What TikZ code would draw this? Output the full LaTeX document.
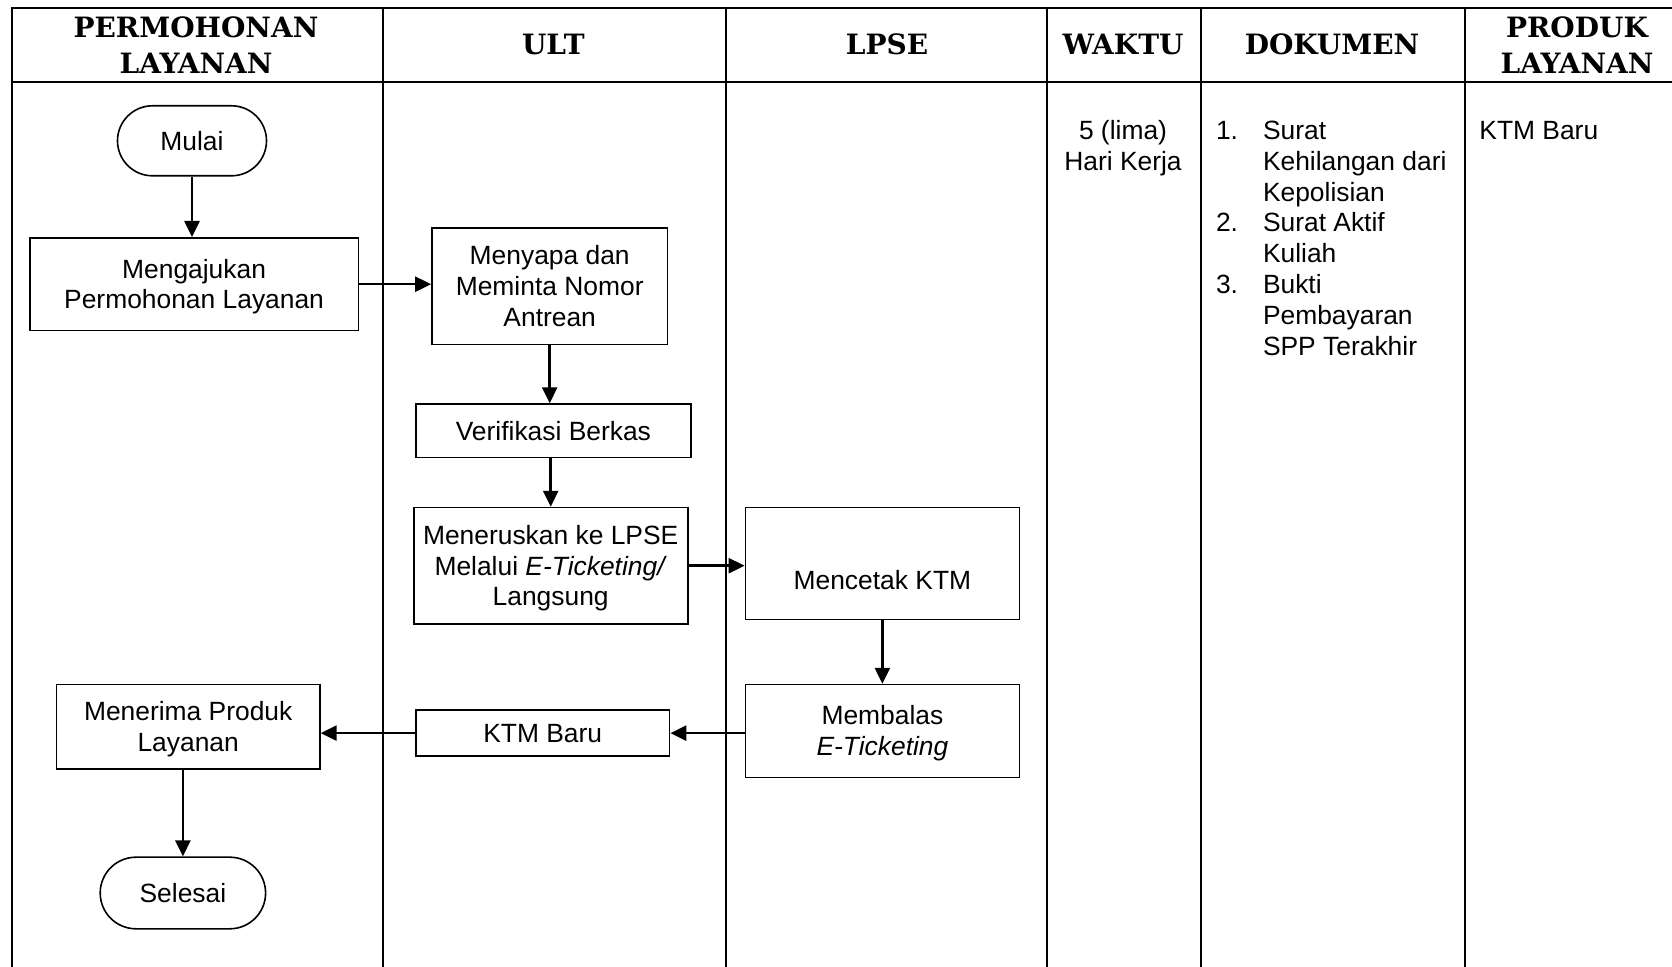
\documentclass[tikz,border=0pt]{standalone}
\usepackage{fontspec}
\setmainfont{Liberation Sans}
\newfontfamily\hdrfont{DejaVu Serif}
\usetikzlibrary{arrows.meta}
\newcommand\bt[1]{\raisebox{-1.6pt}[\height][\depth]{\begin{tabular}{@{}c@{}}#1\end{tabular}}}
\begin{document}
\begin{tikzpicture}[x=0.5pt,y=-0.5pt,
  tline/.style={line width=1.3pt},
  box/.style={draw,line width=0.8pt,rectangle,inner sep=0pt,font=\fontsize{13.2}{15.4}\selectfont},
  term/.style={box,rounded corners=#1},
  hdr/.style={align=center,inner sep=0pt,font=\hdrfont\bfseries\fontsize{14}{18.1}\selectfont},
  body/.style={inner sep=0pt,font=\fontsize{13.2}{15.4}\selectfont},
  arr/.style={line width=1.3pt,-{Triangle[length=8pt,width=7.5pt]}}
]
\useasboundingbox (0,0) rectangle (1672,967);
% table
\draw[tline] (1672,8) -- (12,8) -- (12,967);
\draw[tline] (12,82) -- (1672,82);
\foreach \cx in {383,726,1047,1201,1465} \draw[tline] (\cx,8) -- (\cx,967);
% headers
\node[hdr] (h1) at (196,44.8) {PERMOHONAN\\LAYANAN};
\node[hdr] (h2) at (553.4,44.8) {ULT};
\node[hdr] (h3) at (887,44.8) {LPSE};
\node[hdr] (h4) at (1123,44.8) {WAKTU};
\node[hdr] (h5) at (1332,44.8) {DOKUMEN};
\node[hdr] (h6) at (1577,44.8) {PRODUK\\LAYANAN};
% flow nodes
\node[term=17.5pt,minimum width=74.5pt,minimum height=35pt] (mulai) at (192,140.8) {\bt{Mulai}};
\node[box,minimum width=164.2pt,minimum height=46.4pt] (ajukan) at (194.1,284.2) {\bt{Mengajukan\\Permohonan Layanan}};
\node[box,minimum width=117.8pt,minimum height=58.1pt] (sapa) at (549.7,286.3) {\bt{Menyapa dan\\Meminta Nomor\\Antrean}};
\node[box,minimum width=137.6pt,minimum height=26.7pt] (verif) at (553.4,430.8) {\bt{Verifikasi Berkas}};
\node[box,minimum width=137pt,minimum height=58.1pt] (terus) at (550.7,565.7) {\bt{Meneruskan ke LPSE\\Melalui \textit{E-Ticketing/}\\Langsung}};
\node[box,minimum width=137pt,minimum height=56pt,label={[body,yshift=-8.3pt]center:Mencetak KTM}] (cetak) at (882.4,563.5) {};
\node[box,minimum width=137pt,minimum height=46.4pt] (balas) at (882.4,731) {\bt{Membalas\\\textit{E-Ticketing}}};
\node[box,minimum width=126.9pt,minimum height=23pt] (ktm) at (542.7,733.1) {\bt{KTM Baru}};
\node[box,minimum width=131.7pt,minimum height=42.1pt] (terima) at (188.2,726.7) {\bt{Menerima Produk\\Layanan}};
\node[term=17.9pt,minimum width=82.7pt,minimum height=35.8pt] (selesai) at (182.9,893) {\bt{Selesai}};
% connectors
\draw[arr] (mulai.south) -- (mulai.south |- ajukan.north);
\draw[arr] (ajukan.east) -- (ajukan.east -| sapa.west);
\draw[arr] (sapa.south) -- (sapa.south |- verif.north);
\draw[arr] (verif.south -| terus.north) -- (terus.north);
\draw[arr] (terus.east) -- (terus.east -| cetak.west);
\draw[arr] (cetak.south) -- (balas.north);
\draw[arr] (ktm.east -| balas.west) -- (ktm.east);
\draw[arr] (ktm.west) -- (ktm.west -| terima.east);
\draw[arr] (terima.south -| selesai.north) -- (selesai.north);
% side columns
\node[body,anchor=base] (waktu) at (1123,139.5) {\begin{tabular}[t]{@{}c@{}}5 (lima)\\Hari Kerja\end{tabular}};
\node[body,anchor=base west] (dok) at (1215.6,139.5) {\begin{tabular}[t]{@{}p{23.5pt}@{}l@{}}
1. & Surat\\ & Kehilangan dari\\ & Kepolisian\\
2. & Surat Aktif\\ & Kuliah\\
3. & Bukti\\ & Pembayaran\\ & SPP Terakhir\end{tabular}};
\node[body,anchor=base west] (produk) at (1479,139.5) {KTM Baru};
\end{tikzpicture}
\end{document}
